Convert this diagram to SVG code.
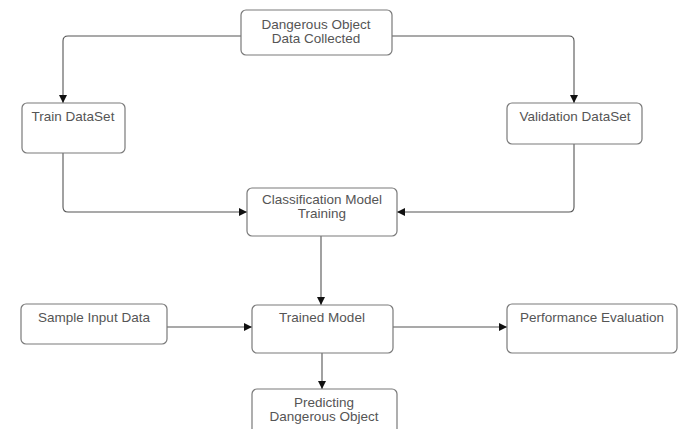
<svg xmlns="http://www.w3.org/2000/svg" width="683" height="429" viewBox="0 0 683 429">
<defs>
<style>
.box{fill:#ffffff;stroke:#7a7a7a;stroke-width:1.2}
.lbl{font-family:"Liberation Sans",Arial,sans-serif;font-size:13.5px;fill:#555555;text-anchor:middle}
.con{fill:none;stroke:#555555;stroke-width:1.1}
</style>
<marker id="arr" viewBox="0 0 10 10" refX="10" refY="5" markerWidth="8" markerHeight="8" markerUnits="userSpaceOnUse" orient="auto">
<path d="M0,0 L10,5 L0,10 Z" fill="#111111"/>
</marker>
</defs>
<rect width="683" height="429" fill="#ffffff"/>
<g id="connectors">
<path class="con" d="M241,36 H68 Q63,36 63,41 V103" marker-end="url(#arr)"/>
<path class="con" d="M392,36 H569 Q574,36 574,41 V103" marker-end="url(#arr)"/>
<path class="con" d="M63,153 V207 Q63,212 68,212 H247" marker-end="url(#arr)"/>
<path class="con" d="M574,144 V207 Q574,212 569,212 H397" marker-end="url(#arr)"/>
<path class="con" d="M321,236 V305" marker-end="url(#arr)"/>
<path class="con" d="M167,327 H252" marker-end="url(#arr)"/>
<path class="con" d="M393,327 H507" marker-end="url(#arr)"/>
<path class="con" d="M322,353 V389" marker-end="url(#arr)"/>
</g>
<g id="n_collected">
<rect class="box" x="241" y="10" width="151" height="45" rx="5"/>
<text class="lbl" x="316" y="29">Dangerous Object</text>
<text class="lbl" x="316" y="43">Data Collected</text>
</g>
<g id="n_train">
<rect class="box" x="22" y="103" width="103" height="50" rx="5"/>
<text class="lbl" x="73" y="121">Train DataSet</text>
</g>
<g id="n_validation">
<rect class="box" x="507" y="103" width="135" height="41" rx="5"/>
<text class="lbl" x="575" y="121">Validation DataSet</text>
</g>
<g id="n_classification">
<rect class="box" x="247" y="188" width="150" height="48" rx="5"/>
<text class="lbl" x="322" y="204">Classification Model</text>
<text class="lbl" x="322" y="218">Training</text>
</g>
<g id="n_sample">
<rect class="box" x="21" y="304" width="146" height="40" rx="5"/>
<text class="lbl" x="94" y="322">Sample Input Data</text>
</g>
<g id="n_trained">
<rect class="box" x="252" y="305" width="141" height="48" rx="5"/>
<text class="lbl" x="322" y="322">Trained Model</text>
</g>
<g id="n_performance">
<rect class="box" x="507" y="304" width="170" height="49" rx="5"/>
<text class="lbl" x="592" y="322">Performance Evaluation</text>
</g>
<g id="n_predicting">
<rect class="box" x="252" y="389" width="145" height="50" rx="5"/>
<text class="lbl" x="324" y="407">Predicting</text>
<text class="lbl" x="324" y="421">Dangerous Object</text>
</g>
</svg>
